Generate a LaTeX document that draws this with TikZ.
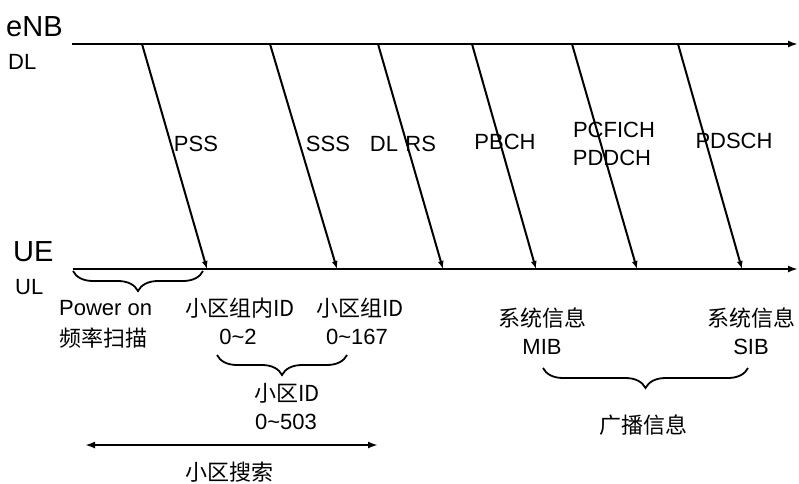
\documentclass[tikz,border=0pt]{standalone}
\usepackage{fontspec}
\setmainfont{Liberation Sans}
\newfontfamily\cjk{Noto Sans CJK SC}[FakeStretch=1.0]
\usetikzlibrary{arrows.meta,decorations.pathreplacing}
\newcommand{\tld}{\char"7E\relax}
\begin{document}
\begin{tikzpicture}[x=1pt,y=-1pt,
  lbl/.style={inner sep=0pt,font=\fontsize{22}{24}\selectfont},
  big/.style={inner sep=0pt,font=\fontsize{29}{31}\selectfont,anchor=west},
  zh/.style={inner sep=0pt,font=\fontsize{22}{24}\selectfont\cjk},
  axis/.style={line width=2.2pt,-{Latex[length=10pt,width=7pt]}},
  sig/.style={line width=2pt,-{Latex[length=8pt,width=6pt]}},
  brc/.style={line width=1.8pt,decorate,decoration={brace,amplitude=20pt,mirror}},
  dbl/.style={line width=2pt,{Latex[length=10pt,width=7pt]}-{Latex[length=10pt,width=7pt]}}]
\useasboundingbox (0,0) rectangle (799,483);
% axes
\coordinate (tl) at (72,44);
\coordinate (tr) at (798,44);
\coordinate (bl) at (73,269);
\coordinate (br) at (798,269);
\draw[axis] (tl) -- (tr);
\draw[axis] (bl) -- (br);
\node[big] (enb) at (6,27) {eNB};
\node[lbl,anchor=west] (dl) at (8,62) {DL};
\node[big] (ue) at (13,252) {UE};
\node[lbl,anchor=west] (ul) at (15,287) {UL};
% signals
\foreach \i/\a/\b in {1/142/207,2/270/337,3/378/443,4/472/536,5/572/637,6/678/742}{
  \coordinate (t\i) at (\a,44);
  \coordinate (b\i) at (\b,269);
  \draw[sig] (t\i) -- (b\i);
}
\node[lbl] (pss) at (196,144) {PSS};
\node[lbl] (sss) at (328,144) {SSS};
\node[lbl] (dlrs) at (403,144) {DL\,\,RS};
\node[lbl] (pbch) at (505,142) {PBCH};
\node[lbl] (pcfich) at (614,130) {PCFICH};
\node[lbl] (pddch) at (612,158) {PDDCH};
\node[lbl] (pdsch) at (734,141) {PDSCH};
% brace 1
\coordinate (p1) at (73,271);
\coordinate (p2) at (203,271);
\draw[brc] (p1) -- (p2);
\node[lbl,anchor=west] (pw) at (59,308) {Power on};
\node[zh,anchor=west] (scan) at (59,338) {频率扫描};
% cell ids
\node[zh] (grpin) at (240,308) {小区组内ID};
\node[lbl] (r1) at (238,337) {0\tld 2};
\node[zh] (grp) at (360,308) {小区组ID};
\node[lbl] (r2) at (357,337) {0\tld 167};
\coordinate (q1) at (217,355);
\coordinate (q2) at (347,355);
\draw[brc] (q1) -- (q2);
\node[zh] (cid) at (287,393) {小区ID};
\node[lbl] (r3) at (286,422) {0\tld 503};
% cell search
\coordinate (s1) at (85,445);
\coordinate (s2) at (378,445);
\draw[dbl] (s1) -- (s2);
\node[zh] (search) at (229,472) {小区搜索};
% system info
\node[zh] (sys1) at (542,318) {系统信息};
\node[lbl] (mib) at (542,347) {MIB};
\node[zh] (sys2) at (751,318) {系统信息};
\node[lbl] (sib) at (751,347) {SIB};
\coordinate (u1) at (543,368);
\coordinate (u2) at (748,368);
\draw[brc] (u1) -- (u2);
\node[zh] (bc) at (643,425) {广播信息};
\end{tikzpicture}
\end{document}
